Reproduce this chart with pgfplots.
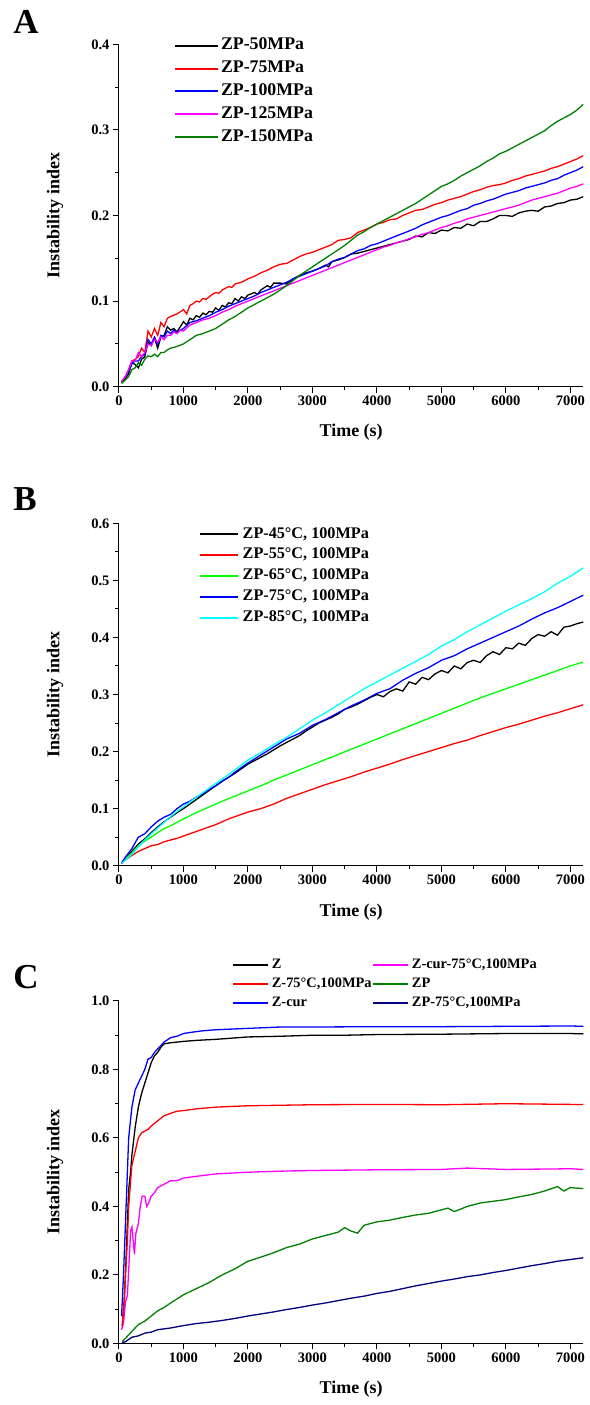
\documentclass[border=0pt]{standalone}
\usepackage{fontspec}
\setmainfont{Liberation Serif}
\usepackage{pgfplots}
\pgfplotsset{compat=1.18}
\newcommand\fs[1]{\fontsize{#1}{#1}\selectfont\bfseries}
\definecolor{dgreen}{RGB}{0,128,0}
\definecolor{lgreen}{RGB}{0,255,0}
\definecolor{navyc}{RGB}{0,0,128}
\definecolor{mag}{RGB}{255,0,255}
\definecolor{cya}{RGB}{0,255,255}
\definecolor{rd}{RGB}{255,0,0}
\definecolor{bl}{RGB}{0,0,255}
\pgfplotsset{
  panel/.style={
    scale only axis, width=464.3pt, height=342.4pt,
    xmin=0, xmax=7200,
    axis lines*=left, tick align=outside,
    xtick={0,1000,...,7000}, minor x tick num=1, minor y tick num=1,
    major tick length=6pt, minor tick length=3.5pt,
    axis line style={line width=1pt},
    every tick/.style={line width=1pt, black},
    ticklabel style={font=\fs{14.5}},
    /pgf/number format/assume math mode=true,
    scaled ticks=false,
    xticklabel style={/pgf/number format/1000 sep={}},
    yticklabel style={/pgf/number format/fixed, /pgf/number format/fixed zerofill, /pgf/number format/precision=1},
    xlabel={Time (s)}, ylabel={Instability index},
    xlabel style={font=\fs{18}, at={(axis description cs:0.5,-0.1343)}, anchor=center},
    ylabel style={font=\fs{18}, at={(axis description cs:-0.1378,0.5)}, anchor=center},
    every axis plot/.append style={line width=1.3pt},
    legend image code/.code={\draw[line width=2pt,##1] (0pt,0pt) -- (\legendlen,0pt);},
  },
}
\newlength\legendlen
\begin{document}
\begin{tikzpicture}
\useasboundingbox (0,0) rectangle (589pt,1405pt);
\node[font=\fs{35}] at (26pt,1383pt) {A};
\node[font=\fs{35}] at (25pt,906pt) {B};
\node[font=\fs{35}] at (26pt,428pt) {C};
% ---------------- Panel A
\setlength\legendlen{42.7pt}
\begin{axis}[panel, at={(119pt,1360.7pt)}, anchor=north west,
  ymin=0, ymax=0.4, ytick={0,0.1,...,0.4},
  legend style={at={(axis description cs:0.1185,1.02)}, anchor=north west, draw=none, fill=none,
    inner sep=0pt, outer sep=0pt, row sep=5.9pt, column sep=2.3pt,
    nodes={inner sep=0pt, text height=12.5pt, text depth=4.4pt, font=\fs{17.8}}},
  legend cell align=left]
\addplot[black] coordinates {(40,0.004)(100,0.01)(150,0.015)(200,0.028)(250,0.026)(300,0.022)(350,0.032)(400,0.035)(450,0.052)(500,0.048)(550,0.057)(600,0.045)(650,0.058)(700,0.06)(750,0.07)(800,0.066)(850,0.068)(900,0.064)(950,0.07)(1000,0.076)(1050,0.072)(1100,0.08)(1150,0.078)(1200,0.083)(1250,0.081)(1300,0.086)(1350,0.084)(1400,0.088)(1450,0.087)(1500,0.092)(1550,0.089)(1600,0.095)(1650,0.093)(1700,0.098)(1750,0.097)(1800,0.103)(1850,0.1)(1900,0.105)(1950,0.103)(2000,0.107)(2100,0.11)(2150,0.108)(2200,0.113)(2300,0.118)(2350,0.116)(2400,0.121)(2500,0.121)(2600,0.12)(2700,0.126)(2800,0.13)(2900,0.133)(3000,0.135)(3100,0.138)(3200,0.142)(3250,0.14)(3300,0.146)(3400,0.148)(3500,0.151)(3600,0.155)(3700,0.156)(3800,0.158)(3900,0.16)(4000,0.162)(4200,0.166)(4400,0.17)(4500,0.172)(4600,0.176)(4700,0.175)(4800,0.18)(4900,0.179)(5000,0.183)(5100,0.182)(5200,0.186)(5300,0.185)(5400,0.19)(5500,0.188)(5600,0.193)(5700,0.193)(5800,0.196)(5900,0.2)(6000,0.2)(6100,0.199)(6200,0.203)(6300,0.205)(6400,0.206)(6500,0.205)(6600,0.21)(6700,0.211)(6800,0.214)(6900,0.215)(7000,0.218)(7100,0.219)(7200,0.222)};
\addlegendentry{ZP-50MPa}
\addplot[rd] coordinates {(40,0.005)(100,0.012)(150,0.02)(200,0.03)(250,0.032)(300,0.035)(350,0.045)(400,0.04)(450,0.065)(500,0.058)(550,0.068)(600,0.06)(650,0.075)(700,0.07)(750,0.08)(800,0.082)(900,0.085)(1000,0.09)(1050,0.085)(1100,0.095)(1150,0.097)(1200,0.1)(1250,0.099)(1300,0.103)(1350,0.102)(1400,0.105)(1450,0.108)(1500,0.11)(1550,0.109)(1600,0.113)(1700,0.117)(1750,0.116)(1800,0.12)(1900,0.122)(2000,0.126)(2100,0.129)(2200,0.133)(2300,0.136)(2400,0.14)(2500,0.143)(2600,0.144)(2700,0.148)(2800,0.152)(2900,0.155)(3000,0.157)(3100,0.16)(3200,0.163)(3300,0.166)(3400,0.171)(3500,0.172)(3600,0.174)(3700,0.18)(3800,0.183)(3900,0.186)(4000,0.19)(4100,0.192)(4200,0.195)(4300,0.196)(4400,0.2)(4500,0.203)(4600,0.206)(4700,0.207)(4800,0.21)(4900,0.213)(5000,0.215)(5100,0.218)(5200,0.22)(5300,0.222)(5400,0.225)(5500,0.228)(5600,0.23)(5700,0.233)(5800,0.235)(5900,0.236)(6000,0.238)(6100,0.241)(6200,0.243)(6300,0.246)(6400,0.248)(6500,0.25)(6600,0.252)(6700,0.255)(6800,0.257)(6900,0.26)(7000,0.263)(7100,0.266)(7200,0.27)};
\addlegendentry{ZP-75MPa}
\addplot[bl] coordinates {(40,0.006)(100,0.012)(150,0.018)(200,0.027)(250,0.03)(300,0.03)(350,0.035)(400,0.038)(450,0.055)(500,0.05)(550,0.058)(600,0.05)(650,0.06)(700,0.058)(750,0.065)(800,0.062)(850,0.066)(900,0.063)(950,0.066)(1000,0.068)(1100,0.075)(1200,0.077)(1300,0.08)(1400,0.083)(1500,0.087)(1600,0.09)(1700,0.094)(1800,0.097)(1900,0.1)(2000,0.103)(2100,0.106)(2200,0.11)(2300,0.113)(2400,0.116)(2500,0.119)(2600,0.122)(2700,0.126)(2800,0.129)(2900,0.132)(3000,0.135)(3100,0.138)(3200,0.141)(3300,0.146)(3400,0.149)(3500,0.151)(3600,0.155)(3700,0.159)(3800,0.161)(3900,0.165)(4000,0.167)(4100,0.17)(4200,0.173)(4300,0.176)(4400,0.179)(4500,0.182)(4600,0.185)(4700,0.189)(4800,0.192)(4900,0.195)(5000,0.198)(5100,0.2)(5200,0.203)(5300,0.206)(5400,0.208)(5500,0.212)(5600,0.214)(5700,0.217)(5800,0.219)(5900,0.222)(6000,0.225)(6100,0.227)(6200,0.229)(6300,0.232)(6400,0.234)(6500,0.236)(6600,0.238)(6700,0.241)(6800,0.243)(6900,0.247)(7000,0.25)(7100,0.253)(7200,0.257)};
\addlegendentry{ZP-100MPa}
\addplot[mag] coordinates {(40,0.006)(100,0.012)(150,0.02)(200,0.03)(250,0.03)(300,0.04)(350,0.035)(400,0.04)(450,0.05)(500,0.048)(550,0.055)(600,0.052)(650,0.058)(700,0.055)(750,0.06)(800,0.06)(850,0.064)(900,0.062)(950,0.066)(1000,0.065)(1100,0.072)(1200,0.075)(1300,0.078)(1400,0.08)(1500,0.083)(1600,0.087)(1700,0.09)(1800,0.094)(1900,0.097)(2000,0.1)(2100,0.103)(2200,0.106)(2300,0.109)(2400,0.112)(2500,0.115)(2600,0.118)(2700,0.121)(2800,0.124)(2900,0.127)(3000,0.13)(3100,0.133)(3200,0.136)(3300,0.139)(3400,0.142)(3500,0.145)(3600,0.148)(3700,0.151)(3800,0.154)(3900,0.157)(4000,0.16)(4100,0.163)(4200,0.165)(4300,0.168)(4400,0.17)(4500,0.173)(4600,0.175)(4700,0.178)(4800,0.18)(4900,0.183)(5000,0.186)(5100,0.188)(5200,0.191)(5300,0.193)(5400,0.196)(5500,0.198)(5600,0.2)(5700,0.202)(5800,0.204)(5900,0.206)(6000,0.208)(6100,0.21)(6200,0.212)(6300,0.215)(6400,0.218)(6500,0.22)(6600,0.222)(6700,0.224)(6800,0.226)(6900,0.229)(7000,0.232)(7100,0.234)(7200,0.237)};
\addlegendentry{ZP-125MPa}
\addplot[dgreen] coordinates {(40,0.004)(100,0.008)(150,0.012)(200,0.02)(250,0.022)(300,0.028)(350,0.025)(400,0.032)(450,0.036)(500,0.035)(550,0.038)(600,0.035)(650,0.04)(700,0.04)(750,0.043)(800,0.045)(900,0.047)(1000,0.05)(1100,0.055)(1200,0.06)(1300,0.062)(1400,0.065)(1500,0.068)(1600,0.073)(1700,0.078)(1800,0.082)(1900,0.087)(2000,0.092)(2100,0.096)(2200,0.1)(2300,0.104)(2400,0.108)(2500,0.113)(2600,0.118)(2700,0.124)(2800,0.13)(2900,0.135)(3000,0.14)(3100,0.145)(3200,0.15)(3300,0.155)(3400,0.16)(3500,0.165)(3600,0.171)(3700,0.177)(3800,0.181)(3900,0.186)(4000,0.19)(4100,0.194)(4200,0.198)(4300,0.202)(4400,0.206)(4500,0.21)(4600,0.214)(4700,0.219)(4800,0.224)(4900,0.229)(5000,0.234)(5100,0.237)(5200,0.241)(5300,0.246)(5400,0.25)(5500,0.254)(5600,0.258)(5700,0.263)(5800,0.267)(5900,0.272)(6000,0.275)(6100,0.279)(6200,0.283)(6300,0.287)(6400,0.291)(6500,0.295)(6600,0.299)(6700,0.305)(6800,0.31)(6900,0.314)(7000,0.318)(7100,0.323)(7200,0.33)};
\addlegendentry{ZP-150MPa}
\end{axis}
% ---------------- Panel B
\setlength\legendlen{37.7pt}
\begin{axis}[panel, at={(119pt,881.7pt)}, anchor=north west,
  ymin=0, ymax=0.6, ytick={0,0.1,...,0.6},
  legend style={at={(axis description cs:0.1723,0.99)}, anchor=north west, draw=none, fill=none,
    inner sep=0pt, outer sep=0pt, row sep=5.4pt, column sep=4pt,
    nodes={inner sep=0pt, text height=11.4pt, text depth=4pt, font=\fs{16.2}}},
  legend cell align=left]
\addplot[black] coordinates {(40,0.004)(100,0.012)(200,0.025)(300,0.038)(400,0.047)(500,0.058)(600,0.068)(700,0.077)(800,0.085)(900,0.093)(1000,0.1)(1100,0.108)(1200,0.116)(1300,0.124)(1400,0.132)(1500,0.14)(1600,0.148)(1700,0.155)(1800,0.162)(1900,0.17)(2000,0.178)(2100,0.184)(2200,0.19)(2300,0.196)(2400,0.203)(2500,0.21)(2600,0.216)(2700,0.222)(2800,0.228)(2900,0.236)(3000,0.243)(3100,0.25)(3200,0.255)(3300,0.26)(3400,0.266)(3500,0.274)(3600,0.278)(3700,0.283)(3800,0.289)(3900,0.295)(4000,0.3)(4100,0.296)(4200,0.305)(4300,0.31)(4400,0.306)(4500,0.322)(4600,0.318)(4700,0.33)(4800,0.326)(4900,0.336)(5000,0.342)(5100,0.338)(5200,0.35)(5300,0.345)(5400,0.356)(5500,0.36)(5600,0.356)(5700,0.368)(5800,0.375)(5900,0.37)(6000,0.382)(6100,0.38)(6200,0.39)(6300,0.386)(6400,0.398)(6500,0.405)(6600,0.402)(6700,0.41)(6800,0.404)(6900,0.418)(7000,0.42)(7100,0.424)(7200,0.427)};
\addlegendentry{ZP-45°C, 100MPa}
\addplot[rd] coordinates {(40,0.004)(100,0.01)(200,0.018)(300,0.025)(400,0.03)(500,0.035)(600,0.037)(700,0.042)(800,0.045)(900,0.048)(1000,0.052)(1100,0.056)(1200,0.06)(1300,0.064)(1400,0.068)(1500,0.072)(1600,0.077)(1700,0.082)(1800,0.086)(1900,0.09)(2000,0.094)(2200,0.1)(2400,0.108)(2600,0.118)(2800,0.126)(3000,0.134)(3200,0.142)(3400,0.149)(3600,0.156)(3800,0.164)(4000,0.171)(4200,0.178)(4400,0.186)(4600,0.193)(4800,0.2)(5000,0.207)(5200,0.214)(5400,0.22)(5600,0.228)(5800,0.235)(6000,0.242)(6200,0.248)(6400,0.255)(6600,0.262)(6800,0.268)(7000,0.275)(7200,0.282)};
\addlegendentry{ZP-55°C, 100MPa}
\addplot[lgreen] coordinates {(40,0.005)(100,0.012)(200,0.022)(300,0.035)(400,0.043)(500,0.05)(600,0.058)(700,0.065)(800,0.07)(900,0.076)(1000,0.082)(1200,0.093)(1400,0.103)(1600,0.113)(1800,0.122)(2000,0.131)(2200,0.14)(2400,0.15)(2600,0.159)(2800,0.168)(3000,0.177)(3200,0.186)(3400,0.195)(3600,0.204)(3800,0.213)(4000,0.222)(4200,0.231)(4400,0.24)(4600,0.249)(4800,0.258)(5000,0.267)(5200,0.276)(5400,0.285)(5600,0.294)(5800,0.302)(6000,0.31)(6200,0.318)(6400,0.326)(6600,0.334)(6800,0.342)(7000,0.35)(7200,0.357)};
\addlegendentry{ZP-65°C, 100MPa}
\addplot[bl] coordinates {(40,0.005)(100,0.015)(200,0.03)(300,0.05)(400,0.056)(500,0.068)(600,0.078)(700,0.085)(800,0.09)(900,0.1)(1000,0.108)(1100,0.113)(1200,0.12)(1300,0.126)(1400,0.134)(1500,0.14)(1600,0.148)(1700,0.155)(1800,0.164)(1900,0.172)(2000,0.18)(2200,0.194)(2400,0.208)(2600,0.222)(2800,0.232)(3000,0.246)(3200,0.256)(3400,0.268)(3600,0.28)(3800,0.29)(4000,0.302)(4200,0.31)(4400,0.325)(4600,0.337)(4800,0.347)(5000,0.36)(5200,0.368)(5400,0.38)(5600,0.39)(5800,0.4)(6000,0.41)(6200,0.42)(6400,0.432)(6600,0.443)(6800,0.452)(7000,0.463)(7200,0.474)};
\addlegendentry{ZP-75°C, 100MPa}
\addplot[cya] coordinates {(40,0.004)(100,0.01)(200,0.02)(300,0.033)(400,0.045)(500,0.056)(600,0.066)(700,0.076)(800,0.086)(900,0.095)(1000,0.103)(1200,0.12)(1400,0.136)(1600,0.152)(1800,0.168)(2000,0.185)(2200,0.198)(2400,0.212)(2600,0.225)(2800,0.24)(3000,0.255)(3200,0.268)(3400,0.282)(3600,0.296)(3800,0.31)(4000,0.322)(4200,0.334)(4400,0.346)(4600,0.358)(4800,0.37)(5000,0.385)(5200,0.396)(5400,0.41)(5600,0.422)(5800,0.434)(6000,0.446)(6200,0.457)(6400,0.468)(6600,0.48)(6800,0.495)(7000,0.507)(7200,0.522)};
\addlegendentry{ZP-85°C, 100MPa}
\end{axis}
% ---------------- Panel C
\setlength\legendlen{35pt}
\begin{axis}[panel, at={(119pt,404pt)}, anchor=north west,
  ymin=0, ymax=1.0, ytick={0,0.2,...,1.0}, minor y tick num=1,
  legend columns=2,
  legend style={at={(axis description cs:0.2425,1.124)}, anchor=north west, draw=none, fill=none,
    inner sep=0pt, outer sep=0pt, row sep=5.3pt, column sep=3.3pt,
    /tikz/every even column/.style={column sep=0pt},
    nodes={inner sep=0pt, text height=10.1pt, text depth=3.6pt, font=\fs{14.4}}},
  legend cell align=left]
\addplot[black] coordinates {(50,0.05)(80,0.12)(100,0.2)(130,0.35)(150,0.45)(180,0.5)(200,0.55)(250,0.63)(300,0.69)(350,0.73)(400,0.76)(450,0.79)(500,0.82)(550,0.84)(600,0.85)(650,0.865)(700,0.875)(800,0.878)(900,0.88)(1000,0.882)(1200,0.885)(1500,0.888)(2000,0.895)(2500,0.897)(3000,0.9)(3500,0.9)(4000,0.902)(5000,0.903)(6000,0.905)(7000,0.905)(7200,0.904)};
\addlegendentry{Z}
\addplot[mag] coordinates {(40,0.04)(70,0.06)(100,0.12)(130,0.14)(160,0.25)(180,0.33)(200,0.34)(220,0.3)(240,0.26)(260,0.32)(300,0.35)(330,0.4)(360,0.43)(400,0.43)(430,0.4)(460,0.41)(500,0.43)(550,0.44)(600,0.455)(700,0.465)(800,0.475)(900,0.475)(1000,0.483)(1200,0.488)(1500,0.495)(2000,0.5)(2500,0.503)(3000,0.505)(4000,0.507)(5000,0.508)(5400,0.512)(6000,0.508)(7000,0.51)(7200,0.508)};
\addlegendentry{Z-cur-75°C,100MPa}
\addplot[rd] coordinates {(50,0.05)(80,0.12)(100,0.2)(130,0.3)(150,0.4)(200,0.52)(250,0.56)(300,0.6)(350,0.615)(400,0.62)(450,0.625)(500,0.635)(600,0.65)(700,0.665)(800,0.672)(900,0.678)(1000,0.68)(1200,0.685)(1500,0.69)(2000,0.694)(3000,0.697)(4000,0.698)(5000,0.697)(6000,0.7)(7000,0.698)(7200,0.698)};
\addlegendentry{Z-75°C,100MPa}
\addplot[dgreen] coordinates {(50,0.005)(100,0.015)(200,0.035)(300,0.055)(400,0.065)(500,0.08)(600,0.095)(700,0.105)(800,0.118)(900,0.13)(1000,0.142)(1200,0.16)(1400,0.178)(1600,0.2)(1800,0.218)(2000,0.24)(2200,0.252)(2400,0.265)(2600,0.28)(2800,0.29)(3000,0.305)(3200,0.315)(3400,0.325)(3500,0.338)(3600,0.328)(3700,0.322)(3800,0.345)(4000,0.355)(4200,0.36)(4400,0.368)(4600,0.375)(4800,0.38)(5000,0.39)(5100,0.395)(5200,0.385)(5400,0.4)(5600,0.41)(5800,0.415)(6000,0.42)(6200,0.428)(6400,0.435)(6600,0.445)(6800,0.458)(6900,0.445)(7000,0.455)(7200,0.452)};
\addlegendentry{ZP}
\addplot[bl] coordinates {(40,0.08)(70,0.2)(100,0.35)(130,0.5)(150,0.6)(200,0.69)(250,0.74)(300,0.76)(350,0.78)(400,0.8)(450,0.83)(500,0.835)(550,0.85)(600,0.86)(700,0.88)(800,0.893)(900,0.897)(1000,0.905)(1100,0.908)(1300,0.913)(1500,0.916)(2000,0.92)(2500,0.924)(3000,0.924)(4000,0.925)(5000,0.925)(6000,0.926)(7000,0.927)(7200,0.926)};
\addlegendentry{Z-cur}
\addplot[navyc] coordinates {(50,0.002)(100,0.005)(200,0.018)(300,0.022)(400,0.03)(500,0.033)(600,0.04)(800,0.045)(1000,0.052)(1200,0.058)(1400,0.062)(1600,0.067)(1800,0.073)(2000,0.08)(2200,0.086)(2400,0.092)(2600,0.099)(2800,0.105)(3000,0.112)(3200,0.118)(3400,0.125)(3600,0.132)(3800,0.138)(4000,0.146)(4200,0.152)(4400,0.16)(4600,0.168)(4800,0.175)(5000,0.182)(5200,0.188)(5400,0.195)(5600,0.2)(5800,0.207)(6000,0.213)(6200,0.22)(6400,0.227)(6600,0.233)(6800,0.24)(7000,0.245)(7200,0.25)};
\addlegendentry{ZP-75°C,100MPa}
\end{axis}
\end{tikzpicture}
\end{document}
